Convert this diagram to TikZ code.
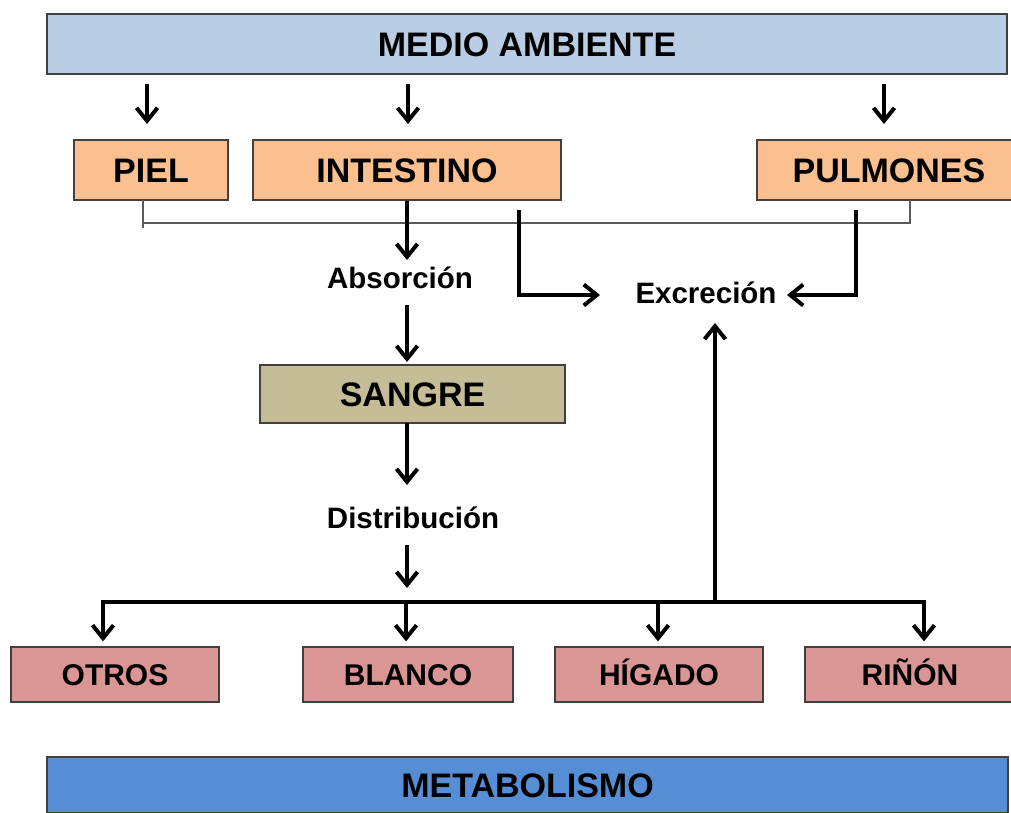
\documentclass[tikz,border=0pt]{standalone}
\usepackage{fontspec}
\setmainfont{Liberation Sans}
\usetikzlibrary{arrows.meta}
\definecolor{envblue}{RGB}{185,205,229}
\definecolor{organ}{RGB}{250,192,144}
\definecolor{blood}{RGB}{196,189,151}
\definecolor{target}{RGB}{217,150,148}
\definecolor{metab}{RGB}{85,142,213}
\definecolor{edgegray}{RGB}{64,64,64}
\definecolor{thingray}{RGB}{90,90,90}
\begin{document}
\begin{tikzpicture}[x=1pt,y=-1pt,
  box/.style={draw=edgegray,line width=1.3pt,inner sep=0pt,text height=24.5pt,text depth=0pt,
    font=\fontsize{34}{38}\selectfont\bfseries},
  smallbox/.style={box,text height=21.5pt,font=\fontsize{30}{34}\selectfont\bfseries},
  lbl/.style={inner sep=0pt,anchor=base,font=\fontsize{29.5}{33}\selectfont\bfseries},
  arr/.style={line width=4pt,-{Straight Barb[length=13pt,width=21pt,line width=4pt]}},
  conn/.style={line width=4pt},
  thin/.style={draw=thingray,line width=1.2pt}]
\useasboundingbox (0,0) rectangle (1011,812);

% boxes
\node[box,fill=envblue,minimum width=960pt,minimum height=60pt] (env) at (527,44) {MEDIO AMBIENTE};
\node[box,fill=organ,minimum width=154pt,minimum height=60pt] (piel) at (151,170) {PIEL};
\node[box,fill=organ,minimum width=308pt,minimum height=60pt] (int) at (407,170) {INTESTINO};
\node[box,fill=organ,minimum width=264pt,minimum height=60pt] (pul) at (889,170) {PULMONES};
\node[box,fill=blood,minimum width=305pt,minimum height=58pt] (sangre) at (412.5,394) {SANGRE};
\node[smallbox,fill=target,minimum width=208pt,minimum height=55pt] (otros) at (115,674.5) {OTROS};
\node[smallbox,fill=target,minimum width=210pt,minimum height=55pt] (blanco) at (408,674.5) {BLANCO};
\node[smallbox,fill=target,minimum width=208pt,minimum height=55pt] (higado) at (659,674.5) {HÍGADO};
\node[smallbox,fill=target,minimum width=210pt,minimum height=55pt] (rinon) at (910,674.5) {RIÑÓN};
\node[box,fill=metab,minimum width=961pt,minimum height=56pt] (metab) at (527.5,785) {METABOLISMO};

% labels
\node[lbl] (abs) at (400,288) {Absorción};
\node[lbl] (exc) at (706,303) {Excreción};
\node[lbl] (dist) at (413,528) {Distribución};

% coordinates
\coordinate (e1s) at (147,84);  \coordinate (e1t) at (147,124);
\coordinate (e2s) at (408,84);  \coordinate (e2t) at (408,124);
\coordinate (e3s) at (884,84);  \coordinate (e3t) at (884,124);
\coordinate (absTip) at (407,260);
\coordinate (absOut) at (407,305);
\coordinate (sanTip) at (407,362);
\coordinate (sanOut) at (407,423);
\coordinate (distTip) at (407,485);
\coordinate (distOut) at (407,545);
\coordinate (busTip) at (407,588);
\coordinate (intEx) at (519,210);
\coordinate (intCorner) at (519,295);
\coordinate (excL) at (600,295);
\coordinate (pulEx) at (856,210);
\coordinate (pulCorner) at (856,295);
\coordinate (excR) at (787,295);
\coordinate (excUp) at (715,323);
\coordinate (busL) at (103,602);
\coordinate (busR) at (924,602);
\coordinate (busB) at (406,602);
\coordinate (busH) at (658,602);
\coordinate (busE) at (715,602);
\coordinate (pielT) at (143,200);
\coordinate (pielB) at (143,228);
\coordinate (thinL) at (143,223);
\coordinate (thinR) at (910,223);
\coordinate (pulT) at (910,200);

% thin connector
\draw[thin] (pielT) -- (pielB);
\draw[thin] (thinL) -- (thinR) -- (pulT);

% arrows from environment
\draw[arr] (e1s) -- (e1t);
\draw[arr] (e2s) -- (e2t);
\draw[arr] (e3s) -- (e3t);

% absorption chain
\draw[arr] (int.south -| absTip) -- (absTip);
\draw[arr] (absOut) -- (sanTip);
\draw[arr] (sanOut) -- (distTip);
\draw[arr] (distOut) -- (busTip);

% excretion
\draw[arr] (intEx) -- (intCorner) -- (excL);
\draw[arr] (pulEx) -- (pulCorner) -- (excR);
\draw[arr] (busE) -- (excUp);

% distribution bus
\draw[conn,line cap=rect] (busL) -- (busR);
\draw[arr] (busL) -- ([yshift=5pt]otros.north -| busL);
\draw[arr] (busB) -- ([yshift=5pt]blanco.north -| busB);
\draw[arr] (busH) -- ([yshift=5pt]higado.north -| busH);
\draw[arr] (busR) -- ([yshift=5pt]rinon.north -| busR);
\end{tikzpicture}
\end{document}
